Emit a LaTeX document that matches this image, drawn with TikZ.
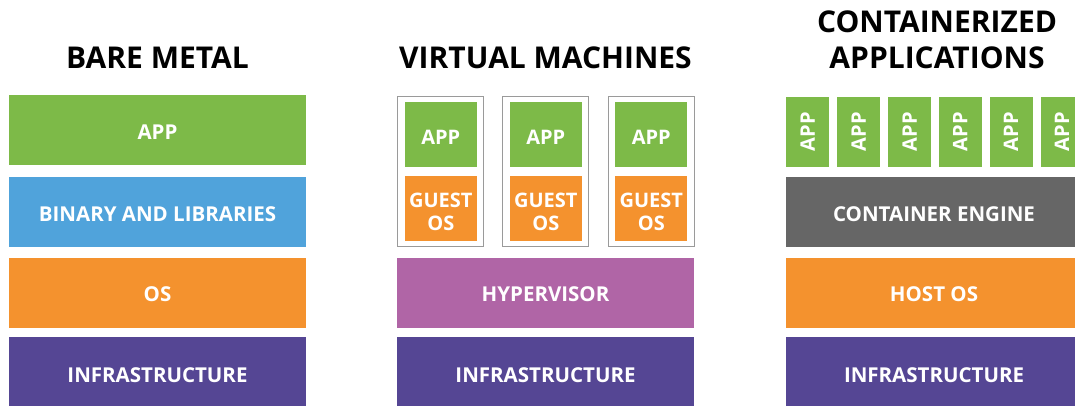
\documentclass[tikz,border=0pt]{standalone}
\usepackage{fontspec}
\setmainfont{Open Sans}
\usetikzlibrary{positioning}
\definecolor{appgreen}{HTML}{7DBA48}
\definecolor{libblue}{HTML}{50A3DB}
\definecolor{osorange}{HTML}{F4922E}
\definecolor{infrapurple}{HTML}{554694}
\definecolor{hyperpink}{HTML}{B065A6}
\definecolor{enginegray}{HTML}{666666}
\definecolor{vmframe}{HTML}{9A9A9A}
\tikzset{
  layer/.style={fill=#1, text=white, inner sep=0pt, minimum width=297pt, minimum height=70pt,
    font=\bfseries\fontsize{20.5}{24}\selectfont, text height=18pt, text depth=0pt},
  vmbox/.style={draw=vmframe, line width=1.2pt, fill=white, inner sep=0pt, minimum width=86pt, minimum height=150pt},
  vmpart/.style={fill=#1, text=white, inner sep=0pt, minimum width=72pt, minimum height=65pt,
    font=\bfseries\fontsize{20}{23}\selectfont, align=center, text height=19pt},
  ctapp/.style={fill=appgreen, text=white, inner sep=0pt, minimum width=70pt, minimum height=43pt,
    font=\bfseries\fontsize{20}{23}\selectfont, rotate=90},
  heading/.style={font=\bfseries\fontsize{30}{36}\selectfont, align=center}
}
\begin{document}
\begin{tikzpicture}[x=1pt,y=-1pt]
  \clip (0,0) rectangle (1075,405);
  \fill[white] (0,0) rectangle (1075,405);
  % bare metal
  \node[heading] (bmtitle) at (157.5,58) {BARE METAL};
  \node[layer=appgreen] (bmapp) at (157.5,130) {APP};
  \node[layer=libblue] (bmlib) at (157.5,212) {BINARY AND LIBRARIES};
  \node[layer=osorange] (bmos) at (157.5,292.5) {OS};
  \node[layer=infrapurple, minimum height=72pt] (bminfra) at (157.5,373) {INFRASTRUCTURE};
  % virtual machines
  \node[heading] (vmtitle) at (545.5,58) {VIRTUAL MACHINES};
  \foreach \i/\x in {1/440.8,2/545.8,3/651.3}{
    \node[vmbox] (vm\i) at (\x,171.3) {};
    \node[vmpart=appgreen] (vmapp\i) at (\x,134.8) {APP};
    \node[vmpart=osorange, text height=44pt, text depth=0pt] (vmos\i) at (\x,208) {GUEST\\OS};
  }
  \node[layer=hyperpink] (hyper) at (545.5,292.5) {HYPERVISOR};
  \node[layer=infrapurple, minimum height=72pt] (vminfra) at (545.5,373) {INFRASTRUCTURE};
  % containers
  \node[heading] (cttitle) at (937,40) {CONTAINERIZED\\APPLICATIONS};
  \foreach \i/\x in {1/807.7,2/858.7,3/909.7,4/960.3,5/1011,6/1062}{
    \node[ctapp] (ctapp\i) at (\x,131.7) {APP};
  }
  \node[layer=enginegray] (engine) at (934,212) {CONTAINER ENGINE};
  \node[layer=osorange] (hostos) at (934,292.5) {HOST OS};
  \node[layer=infrapurple, minimum height=72pt] (ctinfra) at (934,373) {INFRASTRUCTURE};
\end{tikzpicture}
\end{document}
